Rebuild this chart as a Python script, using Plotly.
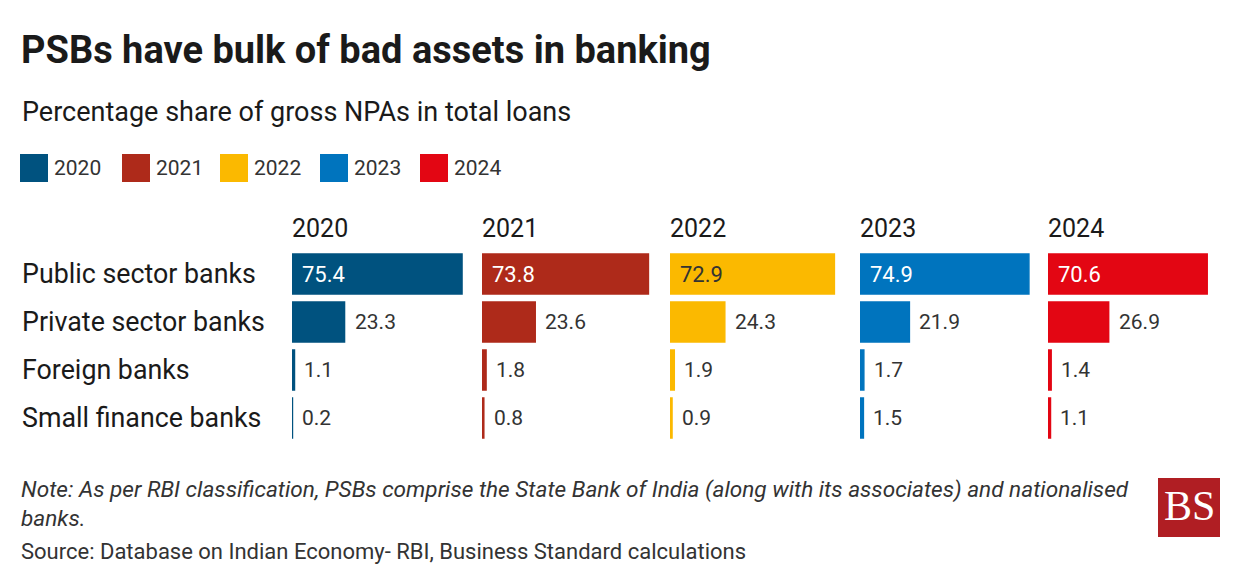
import plotly.graph_objects as go

# The page places the figure 8px in from the top-left corner
OFF = 8
W, H = 1240 - OFF, 586 - OFF

categories = ["Public sector banks", "Private sector banks", "Foreign banks", "Small finance banks"]
years = ["2020", "2021", "2022", "2023", "2024"]
values = {
    "2020": [75.4, 23.3, 1.1, 0.2],
    "2021": [73.8, 23.6, 1.8, 0.8],
    "2022": [72.9, 24.3, 1.9, 0.9],
    "2023": [74.9, 21.9, 1.7, 1.5],
    "2024": [70.6, 26.9, 1.4, 1.1],
}
colors = {
    "2020": "#00527F",
    "2021": "#AE2A1A",
    "2022": "#FBB900",
    "2023": "#0074BE",
    "2024": "#E30613",
}
inside_text_colors = {"2020": "white", "2021": "white", "2022": "#333333", "2023": "white", "2024": "white"}

title = "PSBs have bulk of bad assets in banking"
subtitle = "Percentage share of gross NPAs in total loans"
note = "Note: As per RBI classification, PSBs comprise the State Bank of India (along with its associates) and nationalised<br>banks."
source = "Source: Database on Indian Economy- RBI, Business Standard calculations"

FONT = "Roboto, 'Noto Sans', sans-serif"
TXT = "#333333"
DARK = "#1a1a1a"


def px(x):
    return (x - OFF) / W


def py(y):
    return 1 - (y - OFF) / H


panel_starts = [292, 482, 670, 860, 1048]
panel_w = 180
scale = 2.255  # px per unit
plot_top, plot_bot = 250, 442

fig = go.Figure()
annotations = []
shapes = []

for i, yr in enumerate(years):
    axn = "" if i == 0 else str(i + 1)
    fig.add_trace(go.Bar(
        x=values[yr], y=categories, orientation="h",
        marker=dict(color=colors[yr], line=dict(color=colors[yr], width=1.5)),
        xaxis="x" + axn, yaxis="y", showlegend=False, name=yr,
        hoverinfo="x+y",
    ))
    x0 = panel_starts[i]
    fig.layout["xaxis" + axn] = dict(
        domain=[px(x0), px(x0 + panel_w)], range=[0, panel_w / scale],
        visible=False, fixedrange=True, anchor="y",
    )
    annotations.append(dict(
        x=px(x0), y=py(228), xref="paper", yref="paper", text=yr,
        xanchor="left", yanchor="middle", showarrow=False,
        font=dict(size=25, color=DARK, family=FONT), xshift=-2,
    ))
    for j, (cat, v) in enumerate(zip(categories, values[yr])):
        if j == 0:
            annotations.append(dict(
                x=0, y=cat, xref="x" + axn, yref="y", text=f"{v:.1f}",
                xanchor="left", yanchor="middle", showarrow=False, xshift=8,
                font=dict(size=22, color=inside_text_colors[yr], family=FONT),
            ))
        else:
            annotations.append(dict(
                x=v, y=cat, xref="x" + axn, yref="y", text=f"{v:.1f}",
                xanchor="left", yanchor="middle", showarrow=False, xshift=8,
                font=dict(size=21, color=TXT, family=FONT),
            ))

for cat in categories:
    annotations.append(dict(
        x=px(20), y=cat, xref="paper", yref="y", text=cat,
        xanchor="left", yanchor="middle", showarrow=False,
        font=dict(size=26.8, color=DARK, family=FONT),
    ))

# legend
leg_sq = [20, 122, 220, 320, 420]
for i, yr in enumerate(years):
    shapes.append(dict(
        type="rect", xref="paper", yref="paper",
        x0=px(leg_sq[i]), x1=px(leg_sq[i] + 28), y0=py(182), y1=py(154),
        fillcolor=colors[yr], line=dict(width=0),
    ))
    annotations.append(dict(
        x=px(leg_sq[i] + 32), y=py(168), xref="paper", yref="paper", text=yr,
        xanchor="left", yanchor="middle", showarrow=False,
        font=dict(size=21, color=TXT, family=FONT),
    ))

annotations.append(dict(
    x=px(19), y=py(50), xref="paper", yref="paper", text="<b>" + title + "</b>",
    xanchor="left", yanchor="middle", showarrow=False,
    font=dict(size=38, color=DARK, family=FONT),
))
annotations.append(dict(
    x=px(20), y=py(112), xref="paper", yref="paper", text=subtitle,
    xanchor="left", yanchor="middle", showarrow=False,
    font=dict(size=27, color=DARK, family=FONT),
))
annotations.append(dict(
    x=px(19), y=py(504), xref="paper", yref="paper", text="<i>" + note + "</i>",
    xanchor="left", yanchor="middle", align="left", showarrow=False,
    font=dict(size=22.6, color=TXT, family=FONT),
))
annotations.append(dict(
    x=px(19), y=py(551), xref="paper", yref="paper", text=source,
    xanchor="left", yanchor="middle", showarrow=False,
    font=dict(size=22, color=TXT, family=FONT),
))
# BS logo
shapes.append(dict(
    type="rect", xref="paper", yref="paper",
    x0=px(1158), x1=px(1220), y0=py(537), y1=py(478),
    fillcolor="#B01E23", line=dict(width=0),
))
annotations.append(dict(
    x=px(1189), y=py(506), xref="paper", yref="paper", text="BS",
    xanchor="center", yanchor="middle", showarrow=False,
    font=dict(size=42, color="white", family="'Liberation Serif', 'DejaVu Serif', serif"),
))

fig.update_layout(
    width=W, height=H,
    margin=dict(l=0, r=0, t=0, b=0),
    paper_bgcolor="white", plot_bgcolor="white",
    font=dict(family=FONT, color=TXT),
    bargap=8 / 48,
    yaxis=dict(
        domain=[py(plot_bot), py(plot_top)], categoryorder="array",
        categoryarray=categories, autorange="reversed", visible=False,
        fixedrange=True,
    ),
    annotations=annotations,
    shapes=shapes,
    showlegend=False,
)

fig.write_html("out.html")
